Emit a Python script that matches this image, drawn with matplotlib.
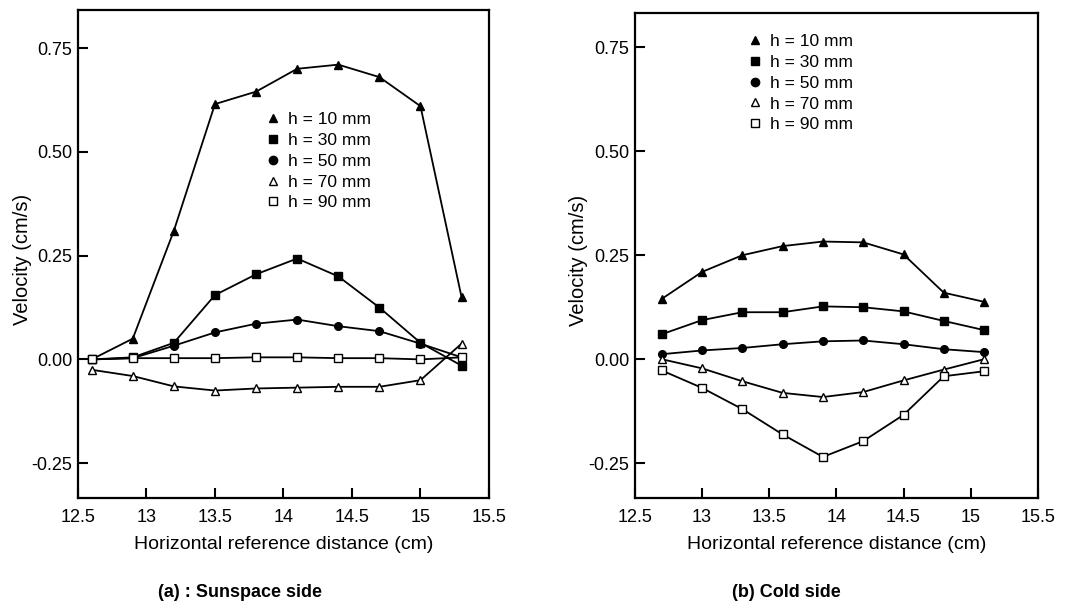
import matplotlib
matplotlib.use("Agg")
import matplotlib.pyplot as plt
from matplotlib.lines import Line2D

plt.rcParams['font.family'] = ['Liberation Sans', 'DejaVu Sans']

# ---- data: (a) sunspace side ----
x_sun = [12.6, 12.9, 13.2, 13.5, 13.8, 14.1, 14.4, 14.7, 15.0, 15.3]
sun_h10 = [0.0, 0.05, 0.31, 0.615, 0.645, 0.70, 0.71, 0.68, 0.61, 0.15]
sun_h30 = [0.0, 0.005, 0.04, 0.155, 0.205, 0.243, 0.20, 0.125, 0.04, -0.015]
sun_h50 = [0.0, 0.003, 0.033, 0.065, 0.086, 0.096, 0.08, 0.068, 0.038, 0.005]
sun_h70 = [-0.025, -0.04, -0.065, -0.075, -0.07, -0.068, -0.066, -0.066, -0.05, 0.038]
sun_h90 = [0.0, 0.003, 0.003, 0.003, 0.005, 0.005, 0.003, 0.003, 0.0, 0.005]

# ---- data: (b) cold side ----
x_cold = [12.7, 13.0, 13.3, 13.6, 13.9, 14.2, 14.5, 14.8, 15.1]
cold_h10 = [0.145, 0.21, 0.25, 0.272, 0.283, 0.281, 0.252, 0.16, 0.138]
cold_h30 = [0.06, 0.094, 0.113, 0.113, 0.127, 0.125, 0.115, 0.092, 0.07]
cold_h50 = [0.012, 0.021, 0.027, 0.036, 0.043, 0.045, 0.036, 0.024, 0.017]
cold_h70 = [0.0, -0.022, -0.053, -0.081, -0.091, -0.079, -0.051, -0.025, 0.0]
cold_h90 = [-0.027, -0.069, -0.12, -0.181, -0.235, -0.197, -0.134, -0.041, -0.029]

labels = ["h = 10 mm", "h = 30 mm", "h = 50 mm", "h = 70 mm", "h = 90 mm"]
xticks = [12.5, 13, 13.5, 14, 14.5, 15, 15.5]
xticklabels = ["12.5", "13", "13.5", "14", "14.5", "15", "15.5"]
yticks = [-0.25, 0.0, 0.25, 0.50, 0.75]
yticklabels = ["-0.25", "0.00", "0.25", "0.50", "0.75"]

styles = [
    dict(marker='^', mfc='black', mec='black'),
    dict(marker='s', mfc='black', mec='black'),
    dict(marker='o', mfc='black', mec='black'),
    dict(marker='^', mfc='white', mec='black'),
    dict(marker='s', mfc='white', mec='black'),
]

fig = plt.figure(figsize=(10.89, 6.03), dpi=100)
axL = fig.add_axes([0.0716, 0.174, 0.449 - 0.0716, 0.983 - 0.174])
axR = fig.add_axes([0.583, 0.174, 0.953 - 0.583, 0.978 - 0.174])


def draw(ax, x, series, ylim, legend_anchor, ylab_x):
    for ys, st in zip(series, styles):
        ax.plot(x, ys, color='black', lw=1.3, markersize=5.5, mew=1.0, **st)
    ax.set_xlim(12.5, 15.5)
    ax.set_ylim(*ylim)
    ax.set_xticks(xticks)
    ax.set_xticklabels(xticklabels)
    ax.set_yticks(yticks)
    ax.set_yticklabels(yticklabels)
    ax.tick_params(direction='in', length=7, width=1.5, labelsize=13)
    ax.tick_params(axis='x', pad=8)
    ax.tick_params(axis='y', pad=4)
    for s in ax.spines.values():
        s.set_linewidth(1.6)
    ax.set_xlabel("Horizontal reference distance (cm)", fontsize=14)
    ax.set_ylabel("Velocity (cm/s)", fontsize=14.5)
    ax.xaxis.set_label_coords(0.5, -0.078)
    ax.yaxis.set_label_coords(ylab_x, 0.49)
    handles = [Line2D([], [], linestyle='none', color='black', markersize=6, **st) for st in styles]
    ax.legend(handles, labels, loc='upper left', bbox_to_anchor=legend_anchor,
              frameon=False, fontsize=12.5, handlelength=0.8, handletextpad=0.5,
              labelspacing=0.32, borderaxespad=0)


draw(axL, x_sun, [sun_h10, sun_h30, sun_h50, sun_h70, sun_h90], (-0.334, 0.841), (0.44, 0.805), -0.112)
draw(axR, x_cold, [cold_h10, cold_h30, cold_h50, cold_h70, cold_h90], (-0.334, 0.832), (0.263, 0.971), -0.117)

fig.text(0.22, 0.018, "(a) : Sunspace side", fontsize=13, fontweight='bold', ha='center', va='center')
fig.text(0.722, 0.017, "(b) Cold side", fontsize=13, fontweight='bold', ha='center', va='center')

fig.savefig("out.png", dpi=100)
